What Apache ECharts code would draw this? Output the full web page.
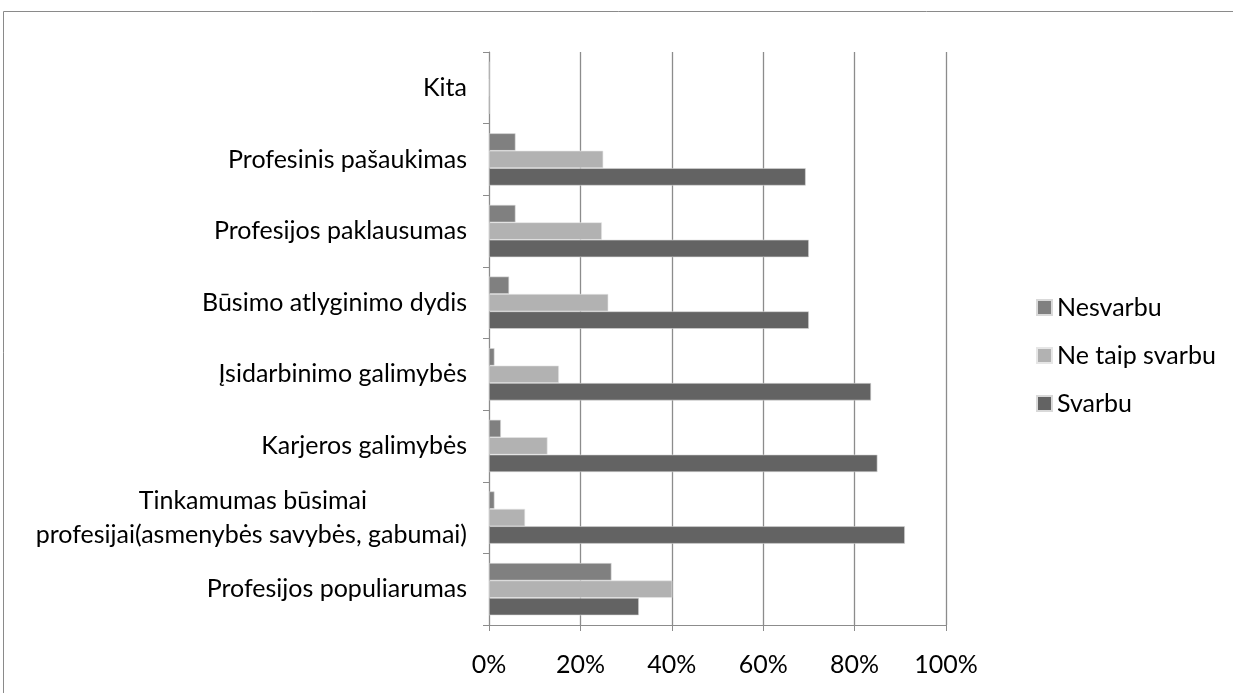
<!DOCTYPE html>
<html>
<head>
<meta charset="utf-8">
<script src="https://cdn.jsdelivr.net/npm/echarts@6/dist/echarts.min.js"></script>
<style>
  html, body { margin: 0; padding: 0; background: #fff; }
  #chart { width: 1233px; height: 693px; }
</style>
</head>
<body>
<div id="chart"></div>
<script>
// kategorijos (iš apačios į viršų)
var categories = [
  "Profesijos populiarumas",
  "Tinkamumas būsimai\nprofesijai(asmenybės savybės, gabumai)",
  "Karjeros galimybės",
  "Įsidarbinimo galimybės",
  "Būsimo atlyginimo dydis",
  "Profesijos paklausumas",
  "Profesinis pašaukimas",
  "Kita"
];
var nesvarbu = [26.8, 1.2, 2.6, 1.2, 4.4, 5.8, 5.8, 0];
var neTaipSvarbu = [40.1, 7.9, 12.8, 15.3, 26.1, 24.7, 25.0, 0];
var svarbu = [32.8, 91.0, 85.0, 83.6, 70.0, 70.0, 69.3, 0];
var xTicks = [0, 20, 40, 60, 80, 100];

var font = "Lato";
var fs = 25;
var myChart = echarts.init(document.getElementById("chart"));

myChart.setOption({
  animation: false,
  textStyle: { fontFamily: font },
  graphic: [
    {
      type: "rect",
      shape: { x: 3.5, y: 11.5, width: 1240, height: 700 },
      style: { fill: "none", stroke: "#8a8a8a", lineWidth: 1 },
      silent: true
    }
  ],
  grid: { left: 489, top: 52, right: 287, bottom: 68 },
  legend: {
    orient: "vertical",
    left: 1031,
    top: 290,
    icon: "rect",
    itemWidth: 15,
    itemHeight: 15,
    itemGap: 23,
    data: ["Nesvarbu", "Ne taip svarbu", "Svarbu"],
    textStyle: { fontFamily: font, fontSize: fs, color: "#000" }
  },
  xAxis: {
    type: "value",
    min: xTicks[0],
    max: xTicks[xTicks.length - 1],
    interval: 20,
    axisLine: { show: true, lineStyle: { color: "#8c8c8c" } },
    axisTick: { show: true, length: 6, lineStyle: { color: "#8c8c8c" } },
    axisLabel: {
      color: "#000",
      fontSize: fs,
      margin: 27,
      formatter: function (v) { return v + "%"; }
    },
    splitLine: { show: true, lineStyle: { color: "#8c8c8c", width: 1.3 } }
  },
  yAxis: {
    type: "category",
    data: categories,
    axisLine: { show: true, lineStyle: { color: "#8c8c8c" } },
    axisTick: { show: true, length: 6, lineStyle: { color: "#8c8c8c" } },
    axisLabel: {
      color: "#000",
      fontSize: fs,
      margin: 22,
      interval: 0,
      hideOverlap: false,
      formatter: function (v) {
        if (v.indexOf("\n") > -1) {
          var p = v.split("\n");
          return "{a|" + p[0] + "}\n{b|" + p[1] + "}";
        }
        return v;
      },
      rich: {
        a: { fontSize: fs, fontFamily: font, color: "#000", lineHeight: 34, padding: [0, 100, 0, 0] },
        b: { fontSize: fs, fontFamily: font, color: "#000", lineHeight: 34 }
      }
    }
  },
  series: [
    {
      name: "Nesvarbu",
      type: "bar",
      data: nesvarbu,
      barGap: "0%",
      barCategoryGap: "27%",
      itemStyle: { color: "#808080", borderColor: "#d9d9d9", borderWidth: 0.6 }
    },
    {
      name: "Ne taip svarbu",
      type: "bar",
      data: neTaipSvarbu,
      barGap: "0%",
      barCategoryGap: "27%",
      itemStyle: { color: "#b2b2b2", borderColor: "#e6e6e6", borderWidth: 0.6 }
    },
    {
      name: "Svarbu",
      type: "bar",
      data: svarbu,
      barGap: "0%",
      barCategoryGap: "27%",
      itemStyle: { color: "#636363", borderColor: "#d9d9d9", borderWidth: 0.6 }
    }
  ]
});
</script>
</body>
</html>
